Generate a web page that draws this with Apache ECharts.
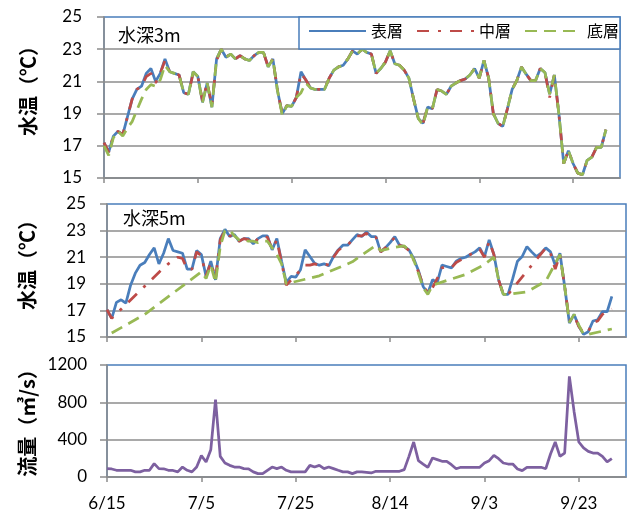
<!DOCTYPE html>
<html>
<head>
<meta charset="utf-8">
<script src="https://cdn.jsdelivr.net/npm/echarts@6/dist/echarts.min.js"></script>
<style>
  html, body { margin: 0; padding: 0; background: #ffffff; }
  #chart { width: 630px; height: 516px; }
</style>
</head>
<body>
<div id="chart"></div>
<script>
// Daily records, index 0 = 6/15 ... index 107 = 9/30
const tickLabels = ['6/15', '7/5', '7/25', '8/14', '9/3', '9/23'];
const tickDays = [0, 20, 40, 60, 80, 100];
const layerNames = ['表層', '中層', '底層'];

// Water temperature at 3 m depth (°C)
const temp3Surface = [
  17.2, 16.6, 17.6, 17.9, 17.7, 18.8, 19.9, 20.5, 20.7, 21.5,
  21.8, 21.0, 21.5, 22.4, 21.6, 21.5, 21.4, 20.3, 20.2, 21.6,
  21.3, 19.7, 20.9, 19.4, 22.4, 23.0, 22.5, 22.7, 22.4, 22.6,
  22.4, 22.3, 22.6, 22.8, 22.8, 21.9, 22.4, 20.4, 19.0, 19.5,
  19.45, 20.0, 21.6, 21.1, 20.6, 20.5, 20.5, 20.5, 21.2, 21.7,
  21.9, 22.0, 22.4, 22.9, 22.7, 23.0, 22.8, 22.7, 21.5, 21.8,
  22.2, 22.9, 22.1, 22.0, 21.7, 21.2, 19.9, 18.7, 18.4, 19.4,
  19.3, 20.5, 20.4, 20.2, 20.7, 20.9, 21.05, 21.15, 21.4, 21.8,
  21.2, 22.3, 21.2, 19.0, 18.4, 18.2, 19.3, 20.5, 21.05, 21.9,
  21.45, 21.05, 21.05, 21.8, 21.55, 20.2, 21.4, 18.9, 15.9, 16.7,
  15.9, 15.3, 15.2, 16.1, 16.3, 16.9, 16.9, 18.0
];
const temp3Middle = [
  17.2, 16.6, 17.6, 17.9, 17.7, 18.8, 19.9, 20.5, 20.7, 21.3,
  21.5, 20.9, 21.5, 22.3, 21.6, 21.5, 21.4, 20.3, 20.2, 21.5,
  21.3, 19.8, 20.9, 19.5, 22.3, 23.0, 22.5, 22.7, 22.4, 22.6,
  22.4, 22.3, 22.6, 22.8, 22.8, 21.9, 22.4, 20.4, 19.0, 19.5,
  19.45, 20.0, 21.5, 21.1, 20.6, 20.5, 20.5, 20.5, 21.2, 21.7,
  21.9, 22.0, 22.4, 22.9, 22.7, 23.0, 22.8, 22.7, 21.5, 21.8,
  22.2, 22.9, 22.1, 22.0, 21.7, 21.2, 19.9, 18.7, 18.4, 19.4,
  19.3, 20.5, 20.4, 20.2, 20.7, 20.9, 21.05, 21.15, 21.4, 21.8,
  21.2, 22.3, 21.2, 19.0, 18.4, 18.2, 19.3, 20.5, 21.05, 21.9,
  21.45, 21.05, 21.05, 21.8, 21.55, 20.0, 21.4, 18.9, 15.9, 16.7,
  15.9, 15.3, 15.2, 16.1, 16.3, 16.9, 16.9, 18.0
];
const temp3Bottom = [
  17.0, 16.4, 17.5, 17.9, 17.6, 18.1, 18.5, 19.2, 19.9, 20.5,
  20.8, 20.7, 21.1, 22.0, 21.6, 21.5, 21.4, 20.3, 20.2, 21.6,
  21.3, 19.7, 20.9, 19.4, 22.4, 23.0, 22.5, 22.7, 22.4, 22.6,
  22.4, 22.3, 22.6, 22.8, 22.8, 21.9, 22.4, 20.4, 18.9, 19.5,
  19.45, 20.0, 20.3, 20.9, 20.6, 20.5, 20.5, 20.5, 21.2, 21.7,
  21.9, 22.0, 22.4, 22.9, 22.7, 23.0, 22.8, 22.7, 21.5, 21.8,
  22.2, 22.9, 22.1, 22.0, 21.7, 21.2, 19.9, 18.7, 18.3, 19.4,
  19.3, 20.5, 20.4, 20.2, 20.7, 20.9, 21.05, 21.15, 21.4, 21.8,
  21.2, 22.3, 21.2, 19.0, 18.4, 18.2, 19.3, 20.5, 21.05, 21.9,
  21.45, 21.05, 21.05, 21.8, 21.55, 20.2, 21.4, 18.9, 15.9, 16.7,
  15.9, 15.3, 15.2, 16.1, 16.3, 16.9, 16.9, 18.0
];

// Water temperature at 5 m depth (°C); null = no measurement
const temp5Surface = [
  17.05, 16.4, 17.6, 17.8, 17.55, 18.9, 19.8, 20.4, 20.6, 21.2,
  21.7, 20.5, 21.3, 22.4, 21.5, 21.4, 21.3, 20.1, 20.1, 21.5,
  21.2, 19.55, 20.7, 19.3, 22.4, 23.1, 22.55, 22.7, 22.2, 22.4,
  22.4, 22.0, 22.4, 22.6, 22.6, 21.55, 22.4, 20.7, 19.1, 19.55,
  19.5, 20.05, 21.55, 21.05, 20.55, 20.4, 20.5, 20.35, 21.05, 21.55,
  21.9, 21.9, 22.3, 22.7, 22.55, 22.9, 22.55, 22.55, 21.4, 21.7,
  22.1, 22.55, 21.9, 21.8, 21.55, 20.9, 20.0, 18.8, 18.3, 19.3,
  19.1, 20.4, 20.3, 20.2, 20.7, 20.9, 21.0, 21.2, 21.4, 21.7,
  21.05, 22.3, 21.2, 19.3, 18.2, 18.2, 19.4, 20.7, 21.05, 21.8,
  21.4, 21.05, 21.3, 21.7, 21.4, 20.4, 21.3, 18.8, 16.05, 16.7,
  15.8, 15.2, 15.4, 16.2, 16.3, 16.9, 16.9, 18.05
];
const temp5Middle = [
  17.05, 16.4, null, null, null, null, null, null, null, null,
  null, null, 20.2, 20.5, null, 21.0, 20.9, 20.1, 20.1, 21.4,
  21.1, 19.6, 20.6, 19.4, 22.3, 23.0, 22.6, 22.6, 22.2, 22.4,
  22.3, 22.0, 22.4, 22.6, 22.5, 21.6, 22.3, 20.6, 18.9, null,
  null, null, 20.4, 20.4, 20.5, 20.4, 20.5, 20.4, 21.0, 21.5,
  21.8, 21.9, 22.3, 22.6, 22.6, 22.8, 22.4, 22.5, 21.4, 21.7,
  22.1, 22.5, 21.9, 21.8, 21.5, 20.8, 19.9, 18.9, 18.3, 18.7,
  19.4, 20.2, 20.3, 20.2, 20.6, 20.8, 21.0, 21.2, 21.4, 21.6,
  21.0, 22.2, 21.2, 19.3, 18.2, 18.2, null, null, null, null,
  null, null, null, 21.7, 21.3, 20.1, 21.2, 18.8, 16.2, 16.6,
  15.8, 15.3, 15.4, 16.1, 16.2, 16.7, 16.9, 17.1
];
const temp5Bottom = [
  null, 15.3, null, null, null, null, null, null, 16.7, null,
  null, null, null, null, null, null, null, null, null, null,
  19.9, 19.4, 20.4, 19.1, 21.8, 23.0, 23.05, 22.6, 22.3, 22.3,
  22.2, 22.2, 22.1, 22.2, 22.2, 21.7, 21.2, 20.5, 19.0, null,
  null, null, null, null, null, 19.6, null, null, null, null,
  null, null, 20.65, null, null, null, null, 21.9, 21.5, null,
  null, 21.75, null, 21.85, 21.5, 20.8, 19.8, 18.7, 18.2, 18.9,
  null, null, null, null, null, null, 19.7, null, null, null,
  20.45, null, 21.0, 19.3, 18.2, 18.2, null, null, null, 18.4,
  null, null, null, 19.2, null, null, 21.2, 18.8, 16.1, 16.7,
  15.9, 15.2, 15.2, null, null, null, null, 15.6
];

// River discharge (m3/s)
const discharge = [
  89, 86, 72, 72, 72, 72, 55, 55, 72, 72,
  143, 90, 88, 72, 70, 55, 107, 72, 55, 107,
  229, 161, 293, 829, 221, 150, 125, 107, 107, 90,
  88, 55, 36, 36, 72, 107, 90, 107, 72, 55,
  55, 55, 55, 125, 107, 125, 90, 107, 90, 72,
  55, 55, 36, 55, 55, 50, 43, 61, 61, 61,
  61, 61, 61, 79, 221, 375, 175, 139, 104, 204,
  186, 168, 168, 132, 89, 104, 104, 104, 104, 104,
  150, 175, 232, 196, 150, 139, 139, 86, 68, 104,
  104, 104, 104, 89, 246, 375, 221, 257, 1078, 700,
  375, 311, 275, 257, 257, 221, 161, 196
];

const BLUE = '#4a7ebb';
const RED = '#be4b48';
const GREEN = '#98b954';
const PURPLE = '#7d60a0';
const AXIS_GRAY = '#8c8c8c';
const NUM_FONT = 'Lato, "Liberation Sans", sans-serif';
const JP_FONT = '"Noto Sans CJK JP", sans-serif';

const toPoints = arr => arr.map((v, i) => [i, v]);

function makeXAxis(gridIndex, withLabels) {
  return {
    type: 'value', gridIndex: gridIndex, min: 0, max: 110, interval: 20,
    axisLine: { show: true, onZero: false, lineStyle: { color: AXIS_GRAY, width: 1.5 } },
    axisTick: { show: true, length: 5, customValues: tickDays, lineStyle: { color: AXIS_GRAY, width: 1.5 } },
    axisLabel: {
      show: withLabels, customValues: tickDays, margin: 18,
      fontFamily: NUM_FONT, fontSize: 17, color: '#000',
      formatter: v => tickLabels[tickDays.indexOf(v)] || ''
    },
    splitLine: { show: false }
  };
}

function makeYAxis(gridIndex, min, max, interval, margin) {
  return {
    type: 'value', gridIndex: gridIndex, min: min, max: max, interval: interval,
    axisLine: { show: true, onZero: false, lineStyle: { color: AXIS_GRAY, width: 1.5 } },
    axisTick: { show: true, length: 7, lineStyle: { color: AXIS_GRAY, width: 1.5 } },
    axisLabel: {
      margin: margin, fontFamily: NUM_FONT, fontSize: 17, color: '#000',
      formatter: v => String(v)
    },
    splitLine: { show: true, showMaxLine: false, lineStyle: { color: AXIS_GRAY, width: 1.5 } }
  };
}

function lineSeries(name, data, axisIndex, color, dash) {
  return {
    name: name, type: 'line', data: toPoints(data),
    xAxisIndex: axisIndex, yAxisIndex: axisIndex,
    showSymbol: false, symbol: 'none', connectNulls: true,
    lineStyle: { color: color, width: 2.75, type: dash },
    itemStyle: { color: color },
    emphasis: { disabled: true }
  };
}

const DASH_DOT = [12, 9, 3, 9];
const DASHED = [12, 7];

const titleStyle = { fontFamily: JP_FONT, fontSize: 18, fill: '#000', verticalAlign: 'middle' };
const axisNameStyle = text => ({
  text: text, fontFamily: JP_FONT, fontWeight: 'bold', fontSize: 20,
  fill: '#000', align: 'center', verticalAlign: 'middle'
});

const chart = echarts.init(document.getElementById('chart'), null, { renderer: 'canvas' });
chart.setOption({
  animation: false,
  backgroundColor: '#ffffff',
  grid: [
    { left: 104, top: 17, width: 516, height: 161, show: true, borderColor: BLUE, borderWidth: 1.5, backgroundColor: 'transparent' },
    { left: 107, top: 204, width: 519, height: 133, show: true, borderColor: BLUE, borderWidth: 1.5, backgroundColor: 'transparent' },
    { left: 107, top: 365, width: 519, height: 112, show: true, borderColor: BLUE, borderWidth: 1.5, backgroundColor: 'transparent' }
  ],
  xAxis: [makeXAxis(0, false), makeXAxis(1, false), makeXAxis(2, true)],
  yAxis: [
    makeYAxis(0, 15, 25, 2, 22),
    makeYAxis(1, 15, 25, 2, 21),
    makeYAxis(2, 0, 1200, 400, 20)
  ],
  legend: {
    data: layerNames,
    left: 308, top: 23, padding: 0, itemGap: 13,
    itemWidth: 57, itemHeight: 12, z: 20,
    itemStyle: { opacity: 0 },
    textStyle: { fontFamily: JP_FONT, fontSize: 16, color: '#000' }
  },
  graphic: [
    { type: 'rect', z: 10, shape: { x: 299, y: 17, width: 321, height: 32 },
      style: { fill: '#ffffff', stroke: BLUE, lineWidth: 1.5 } },
    { type: 'text', z: 10, x: 118, y: 35, style: Object.assign({ text: '水深3m' }, titleStyle) },
    { type: 'text', z: 10, x: 123, y: 218, style: Object.assign({ text: '水深5m' }, titleStyle) },
    { type: 'text', z: 10, x: 28, y: 86, rotation: Math.PI / 2, style: axisNameStyle('水温（℃）') },
    { type: 'text', z: 10, x: 27, y: 260, rotation: Math.PI / 2, style: axisNameStyle('水温（℃）') },
    { type: 'text', z: 10, x: 27, y: 418, rotation: Math.PI / 2, style: axisNameStyle('流量（㎥/s）') }
  ],
  series: [
    lineSeries(layerNames[0], temp3Surface, 0, BLUE, 'solid'),
    lineSeries(layerNames[1], temp3Middle, 0, RED, DASH_DOT),
    lineSeries(layerNames[2], temp3Bottom, 0, GREEN, DASHED),
    lineSeries(layerNames[0], temp5Surface, 1, BLUE, 'solid'),
    lineSeries(layerNames[1], temp5Middle, 1, RED, DASH_DOT),
    lineSeries(layerNames[2], temp5Bottom, 1, GREEN, DASHED),
    lineSeries('流量', discharge, 2, PURPLE, 'solid')
  ]
});
</script>
</body>
</html>
